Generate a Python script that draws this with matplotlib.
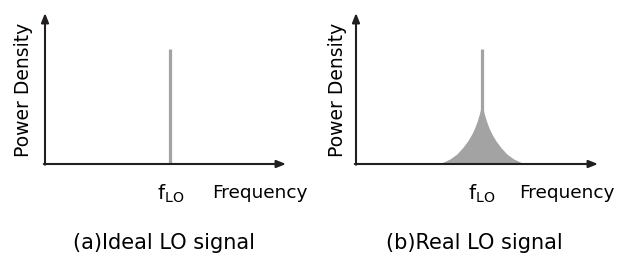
import matplotlib
matplotlib.use("Agg")
import matplotlib.pyplot as plt
import numpy as np

plt.rcParams['font.family'] = ['DejaVu Sans']
plt.rcParams['mathtext.fontset'] = 'dejavusans'

# Data (arbitrary units: frequency axis 0..10, power axis 0..10)
axis_max = 10.0
f_lo = 5.2
spike_height = 7.6
# Phase-noise skirt of the real LO: offset from f_LO vs. power density
skirt_offset = [0.0, 0.103, 0.186, 0.289, 0.413, 0.579, 0.785, 1.033, 1.322, 1.612, 1.818]
skirt_height = [3.97, 3.31, 2.87, 2.42, 1.99, 1.54, 1.10, 0.66, 0.33, 0.11, 0.0]

captions = ["(a)Ideal LO signal", "(b)Real LO signal"]
xlabel = "Frequency"
ylabel = "Power Density"
lo_label = r"$\mathregular{f_{LO}}$"

axis_color = "#231f20"
gray = "#a3a3a3"

fig = plt.figure(figsize=(6.32, 2.59), dpi=100)
positions = [[45/632, 95/259, 241/632, 151/259],
             [356/632, 95/259, 242/632, 151/259]]
ylabel_x = [-0.089, -0.078]
xlabel_x = [0.89, 0.87]
caption_x = [0.495, 0.49]

for i, pos in enumerate(positions):
    ax = fig.add_axes(pos)
    ax.set_xlim(0, axis_max)
    ax.set_ylim(0, axis_max)
    ax.axis('off')

    if i == 1:
        off = np.array(skirt_offset)
        h = np.array(skirt_height)
        xs = np.concatenate([f_lo - off[::-1], f_lo + off[1:]])
        ys = np.concatenate([h[::-1], h[1:]])
        ax.fill_between(xs, 0, ys, color=gray, lw=0, zorder=2)

    ax.plot([f_lo, f_lo], [0, spike_height], color=gray, lw=2.3,
            solid_capstyle='butt', zorder=3)

    arrow = dict(arrowstyle='-|>,head_length=0.55,head_width=0.22',
                 color=axis_color, lw=1.5, shrinkA=0, shrinkB=0)
    ax.annotate('', xy=(axis_max, 0), xytext=(-0.05, 0), arrowprops=arrow,
                annotation_clip=False, zorder=4)
    ax.annotate('', xy=(0, axis_max), xytext=(0, -0.05), arrowprops=arrow,
                annotation_clip=False, zorder=4)

    ax.text(f_lo, -1.95, lo_label, ha='center', va='center', fontsize=14.5,
            color='black')
    ax.text(xlabel_x[i], -0.19, xlabel, transform=ax.transAxes,
            ha='center', va='center', fontsize=13.3, color='black')
    ax.text(ylabel_x[i], 0.49, ylabel, transform=ax.transAxes,
            rotation=90, ha='center', va='center', fontsize=13.5, color='black')
    ax.text(caption_x[i], -0.52, captions[i], transform=ax.transAxes,
            ha='center', va='center', fontsize=15, color='black')

fig.savefig("out.png", dpi=100)
